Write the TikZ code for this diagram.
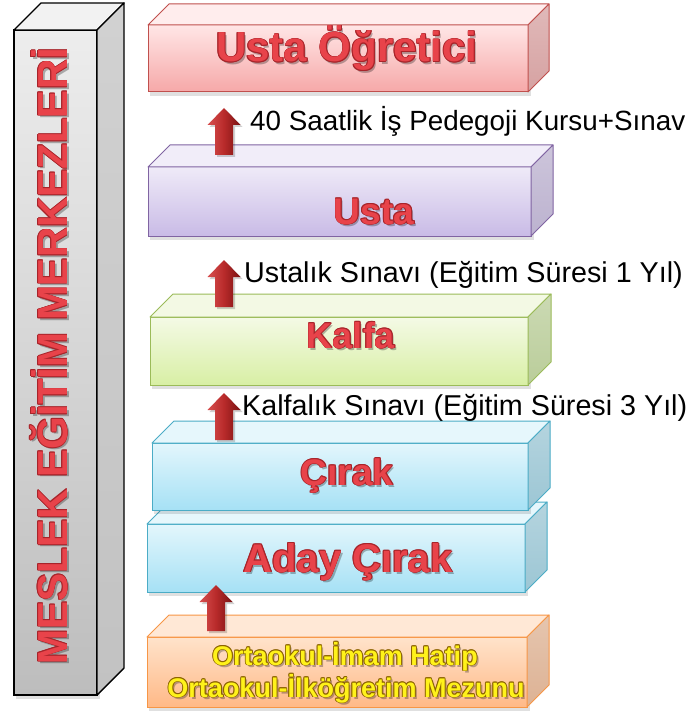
\documentclass[tikz,border=0pt]{standalone}
\usepackage{fontspec}
\setmainfont{Liberation Sans}
\usetikzlibrary{calc}

\definecolor{pkA}{HTML}{FFE6E6}\definecolor{pkB}{HTML}{F6A8A8}\definecolor{pkT}{HTML}{FFEDED}\definecolor{pkS}{HTML}{D6A2A2}\definecolor{pkL}{HTML}{C0504D}
\definecolor{puA}{HTML}{EFEAF8}\definecolor{puB}{HTML}{C9BBE6}\definecolor{puT}{HTML}{F1EDF9}\definecolor{puS}{HTML}{BCB2CF}\definecolor{puL}{HTML}{8064A2}
\definecolor{grA}{HTML}{F4FAE6}\definecolor{grB}{HTML}{D8EFA4}\definecolor{grT}{HTML}{F3F9E4}\definecolor{grS}{HTML}{BACD9A}\definecolor{grL}{HTML}{9BBB59}
\definecolor{blA}{HTML}{E3F6FC}\definecolor{blB}{HTML}{A6E1F5}\definecolor{blT}{HTML}{E6F7FC}\definecolor{blS}{HTML}{9CC6D4}\definecolor{blL}{HTML}{4BACC6}
\definecolor{orA}{HTML}{FFE3CB}\definecolor{orB}{HTML}{FFB987}\definecolor{orT}{HTML}{FFE8D6}\definecolor{orS}{HTML}{DDB294}\definecolor{orL}{HTML}{F79646}
\definecolor{gyA}{HTML}{EDEDED}\definecolor{gyB}{HTML}{BDBDBD}\definecolor{gyT}{HTML}{F2F2F2}\definecolor{gyS}{HTML}{C2C2C2}\definecolor{gyL}{HTML}{000000}
\definecolor{arL}{HTML}{D85050}\definecolor{arM}{HTML}{B82A2A}\definecolor{arR}{HTML}{7A1212}
\definecolor{redfill}{HTML}{E8434A}\definecolor{redline}{HTML}{A8242A}
\definecolor{yelfill}{HTML}{FFF21A}\definecolor{yelline}{HTML}{8C6400}

% #1 x1, #2 y1, #3 x2, #4 y2 (front face), #5 colour prefix, #6 depth, #7 line width
\newcommand\blockbox[7]{%
  \fill[black,opacity=.12] (#1+2,#2+3) rectangle (#3+3,#4+4);
  \shade[top color=#5A,bottom color=#5B] (#1,#2) rectangle (#3,#4);
  \draw[#5L,line width=#7] (#1,#2) rectangle (#3,#4);
  \fill[#5T,draw=#5L,line width=#7,line join=round]
    (#1,#2) -- (#1+#6,#2-#6) -- (#3+#6,#2-#6) -- (#3,#2) -- cycle;
  \shade[top color=#5S!75!white,bottom color=#5S] (#3,#2) -- (#3+#6,#2-#6) -- (#3+#6,#4-#6) -- (#3,#4) -- cycle;
  \draw[#5L,line width=#7,line join=round] (#3,#2) -- (#3+#6,#2-#6) -- (#3+#6,#4-#6) -- (#3,#4) -- cycle;
}
% #1 x, #2 y top, #3 y bottom
\newcommand\blockarrow[3]{%
  \fill[black,opacity=.18] (#1-7,#3+2) -- (#1-7,#2+19) -- (#1-14.5,#2+19) -- (#1+2,#2+2) -- (#1+18.5,#2+19) -- (#1+11,#2+19) -- (#1+11,#3+2) -- cycle;
  \shade[left color=arL,right color=arR,middle color=arM]
    (#1-9,#3) -- (#1-9,#2+17) -- (#1-16.5,#2+17) -- (#1,#2) -- (#1+16.5,#2+17) -- (#1+9,#2+17) -- (#1+9,#3) -- cycle;
}
% #1 name, #2 x, #3 y, #4 node options, #5 fill, #6 outline, #7 text
\newcommand\fxlabel[7]{%
  \node[#4,text=black,opacity=.28] (#1s) at (#2+2,#3+2.5) {#7};
  \foreach \a in {0,45,...,315}{\node[#4,text=#6] (#1o\a) at ($(#2,#3)+(\a:0.9)$) {#7};}
  \node[#4,text=#5] (#1) at (#2,#3) {#7};
}

\tikzset{
  fxbase/.style={inner sep=0pt,anchor=base},
  big/.style={fxbase,font=\bfseries\fontsize{#1}{#1}\selectfont},
  note/.style={inner sep=0pt,anchor=base west,text=black,font=\fontsize{#1}{#1}\selectfont},
}

\begin{document}
\begin{tikzpicture}[x=1pt,y=-1pt]
\useasboundingbox (0,0) rectangle (692,711);
\fill[white] (0,0) rectangle (692,711);

% pillar
\blockbox{14}{30}{97}{695}{gy}{27}{1.4pt}
\fxlabel{pillar}{67}{356}{big=42,rotate=90}{redfill}{redline}{MESLEK EĞİTİM MERKEZLERİ}

% boxes (bottom to top)
\blockbox{147}{637}{527}{707}{or}{22}{1pt}
\blockbox{147}{524}{525}{592}{bl}{22}{1pt}
\blockbox{152}{443}{528}{510}{bl}{22}{1pt}
\blockbox{150}{317}{528}{385}{gr}{23}{1pt}
\blockbox{148}{167}{531}{236}{pu}{22}{1pt}
\blockbox{148}{25}{528}{92}{pk}{21}{1pt}

% box labels
\fxlabel{ustaogretici}{347}{62}{big=42}{redfill}{redline}{Usta Öğretici}
\fxlabel{usta}{374}{224}{big=37}{redfill}{redline}{Usta}
\fxlabel{kalfa}{351}{348}{big=36}{redfill}{redline}{Kalfa}
\fxlabel{cirak}{347}{485}{big=37}{redfill}{redline}{Çırak}
\fxlabel{adaycirak}{348}{572}{big=40}{redfill}{redline}{Aday Çırak}
\fxlabel{mezun1}{345}{665}{big=27}{yelfill}{yelline}{Ortaokul-İmam Hatip}
\fxlabel{mezun2}{346}{697}{big=27}{yelfill}{yelline}{Ortaokul-İlköğretim Mezunu}

% arrows
\blockarrow{224}{108}{155}
\blockarrow{224}{260}{307}
\blockarrow{224}{393}{440}
\blockarrow{216}{585}{631}

% arrow notes
\node[note=27.8] (n1) at (250,131) {40 Saatlik İş Pedegoji Kursu+Sınav};
\node[note=28.7] (n2) at (244,282) {Ustalık Sınavı (Eğitim Süresi 1 Yıl)};
\node[note=28.7] (n3) at (242,415) {Kalfalık Sınavı (Eğitim Süresi 3 Yıl)};
\end{tikzpicture}
\end{document}
